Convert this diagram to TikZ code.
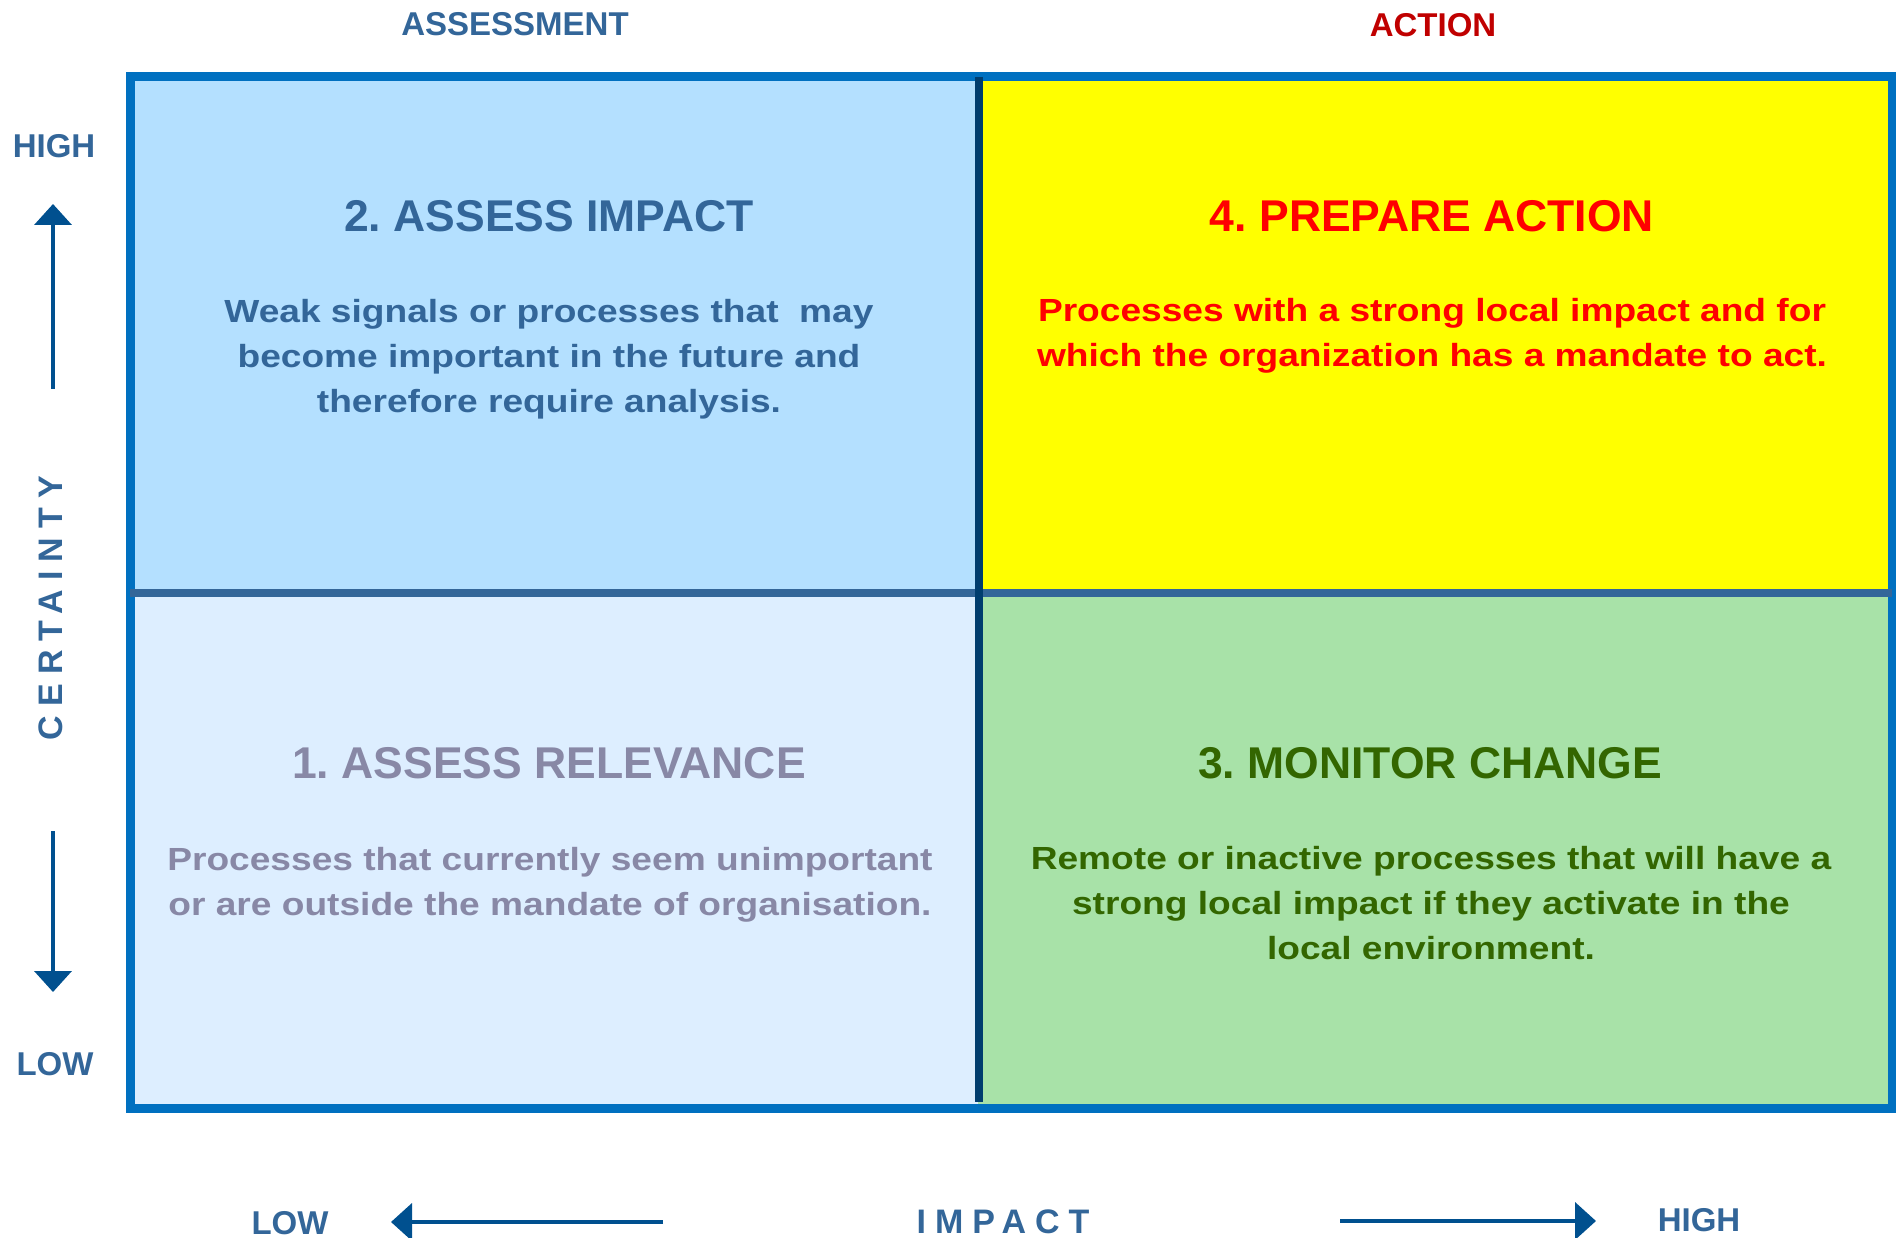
\documentclass[tikz,border=0pt]{standalone}
\usepackage{fontspec}
\setmainfont{Liberation Sans}
\newfontfamily\widefont{Liberation Sans}[FakeStretch=1.16]
\newfontfamily\spacedfont{Liberation Sans}[LetterSpace=26.5]
\usetikzlibrary{arrows.meta}
\frenchspacing
\definecolor{frameblue}{HTML}{0070C0}
\definecolor{divblue}{HTML}{336699}
\definecolor{divnavy}{HTML}{003D6E}
\definecolor{labelblue}{HTML}{336699}
\definecolor{arrowblue}{HTML}{00508F}
\definecolor{actionred}{HTML}{C00000}
\definecolor{assessfill}{HTML}{B4E0FF}
\definecolor{relevfill}{HTML}{DDEEFF}
\definecolor{actfill}{HTML}{FFFF00}
\definecolor{monfill}{HTML}{A8E2A8}
\definecolor{relevgray}{HTML}{8888A6}
\definecolor{mongreen}{HTML}{336600}

\begin{document}
\begin{tikzpicture}[x=1pt,y=-1pt,
        axislbl/.style = {anchor=base,inner sep=0pt,text=labelblue,
                          font=\fontsize{33}{40}\selectfont\bfseries},
        spacedlbl/.style = {anchor=base,inner sep=0pt,text=labelblue,
                          font=\spacedfont\fontsize{34}{40}\selectfont\bfseries},
        quadtitle/.style = {anchor=base,inner sep=0pt,
                          font=\fontsize{44.5}{52}\selectfont\bfseries},
        quadbody/.style = {anchor=base,inner sep=0pt,align=center,
                          font=\widefont\fontsize{32}{45}\selectfont\bfseries},
        axisarrow/.style = {line width=4pt,arrowblue,
                          -{Triangle[width=37pt,length=21pt]}}]
                \useasboundingbox (0,0) rectangle (1896,1238);

                \fill[assessfill] (130,77)  rectangle (978,593);
                \fill[actfill]    (978,77)  rectangle (1892,593);
                \fill[relevfill]  (130,593) rectangle (978,1108);
                \fill[monfill]    (978,593) rectangle (1892,1108);
                \draw[frameblue,line width=9pt] (130,77) rectangle (1892,1108);
                \draw[divblue,line width=8pt]   (130,593) -- (1892,593);
                \draw[divnavy,line width=8pt]   (978.5,77) -- (978.5,1102);

                \node[axislbl] (assesshdr) at (515,36) {ASSESSMENT};
                \node[axislbl,text=actionred] (actionhdr) at (1433,37) {ACTION};

                \node[axislbl] (certhigh) at (54,158)  {HIGH};
                \node[axislbl] (certlow)  at (55,1075) {LOW};
                \node[spacedlbl,rotate=90] (certainty) at (62,608) {CERTAINTY};
                \coordinate (upstart)   at (53,389);
                \coordinate (uptip)     at (53,204);
                \coordinate (downstart) at (53,831);
                \coordinate (downtip)   at (53,992);
                \draw[axisarrow] (upstart) -- (uptip);
                \draw[axisarrow] (downstart) -- (downtip);

                \node[axislbl] (implow)  at (290,1234)  {LOW};
                \node[spacedlbl] (impact) at (1003,1233) {IMPACT};
                \node[axislbl] (imphigh) at (1699,1231) {HIGH};
                \coordinate (leftstart)  at (663,1222);
                \coordinate (lefttip)    at (391,1222);
                \coordinate (rightstart) at (1340,1221);
                \coordinate (righttip)   at (1596,1221);
                \draw[axisarrow] (leftstart) -- (lefttip);
                \draw[axisarrow] (rightstart) -- (righttip);

                \node[quadtitle,text=labelblue] (assesstitle) at (549,232)
                    {2. ASSESS IMPACT};
                \node[quadbody,text=labelblue] (assessbody) at (549,413)
                    {Weak signals or processes that\ \ may\\
                     become important in the future and\\
                     therefore require analysis.};

                \node[quadtitle,text=red] (actiontitle) at (1432,232)
                    {4. PREPARE ACTION};
                \node[quadbody,text=red] (actionbody) at (1432,367)
                    {Processes with a strong local impact and for\\
                     which the organization has a mandate to act.};

                \node[quadtitle,text=relevgray] (relevtitle) at (549,778)
                    {1. ASSESS RELEVANCE};
                \node[quadbody,text=relevgray] (relevbody) at (550,915)
                    {Processes that currently seem unimportant\\
                     or are outside the mandate of organisation.};

                \node[quadtitle,text=mongreen] (montitle) at (1430,778)
                    {3. MONITOR CHANGE};
                \node[quadbody,text=mongreen] (monbody) at (1431,959)
                    {Remote or inactive processes that will have a\\
                     strong local impact if they activate in the\\
                     local environment.};
            \end{tikzpicture}
\end{document}
